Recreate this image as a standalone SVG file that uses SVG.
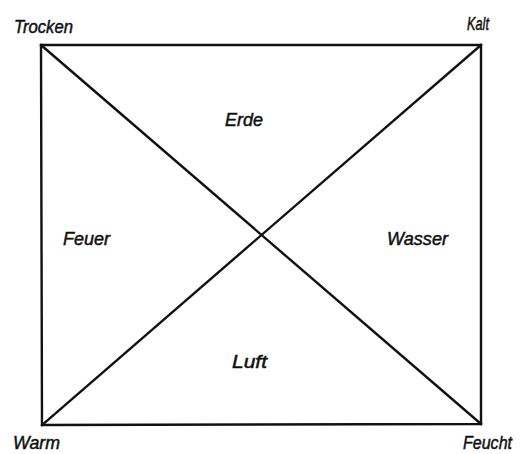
<svg xmlns="http://www.w3.org/2000/svg" width="520" height="454" viewBox="0 0 520 454">
<style>
.l{stroke:#111;stroke-width:2.4;fill:none;stroke-linecap:square}
.t{font-family:"Liberation Sans",Arial,sans-serif;font-style:italic;font-size:19px;fill:#111;stroke:#111;stroke-width:0.5}
</style>
<rect width="520" height="454" fill="#fff"/>
<g id="connectors">
<polygon class="l" points="41,45 481,45 481,424 42,425"/>
<line class="l" x1="41" y1="45" x2="481" y2="424"/>
<line class="l" x1="481" y1="45" x2="42" y2="425"/>
</g>
<g id="trocken"><text class="t" x="14" y="33" textLength="59" lengthAdjust="spacingAndGlyphs">Trocken</text></g>
<g id="kalt"><text class="t" x="467" y="30" textLength="22" lengthAdjust="spacingAndGlyphs">Kalt</text></g>
<g id="warm"><text class="t" x="13" y="449" font-size="18" textLength="47" lengthAdjust="spacingAndGlyphs">Warm</text></g>
<g id="feucht"><text class="t" x="463" y="449" font-size="17" textLength="49" lengthAdjust="spacingAndGlyphs">Feucht</text></g>
<g id="erde"><text class="t" x="225" y="126" textLength="38" lengthAdjust="spacingAndGlyphs">Erde</text></g>
<g id="feuer"><text class="t" x="63" y="245" textLength="47" lengthAdjust="spacingAndGlyphs">Feuer</text></g>
<g id="wasser"><text class="t" x="387" y="245" textLength="61" lengthAdjust="spacingAndGlyphs">Wasser</text></g>
<g id="luft"><text class="t" x="232" y="368" textLength="35" lengthAdjust="spacingAndGlyphs">Luft</text></g>
</svg>
